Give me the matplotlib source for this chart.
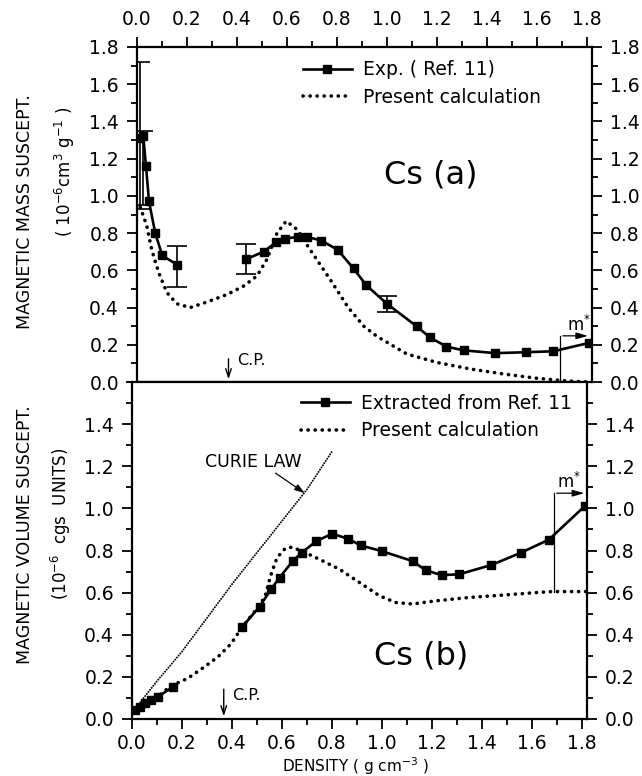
import numpy as np
import matplotlib
matplotlib.use("Agg")
import matplotlib.pyplot as plt
from matplotlib.ticker import MultipleLocator, FixedLocator, FormatStrFormatter

# (a) mass susceptibility, experiment (Ref. 11) - nan marks the gap in the data
mass_exp_x = [0.010, 0.025, 0.036, 0.048, 0.073, 0.101, 0.160, np.nan,
              0.437, 0.506, 0.556, 0.593, 0.643, 0.680, 0.737, 0.803, 0.866,
              0.917, 1.000, 1.118, 1.171, 1.238, 1.307, 1.434, 1.554, 1.665, 1.808]
mass_exp_y = [1.31, 1.32, 1.16, 0.97, 0.80, 0.68, 0.63, np.nan,
              0.66, 0.70, 0.75, 0.77, 0.78, 0.78, 0.76, 0.71, 0.61,
              0.52, 0.42, 0.30, 0.24, 0.19, 0.17, 0.155, 0.16, 0.165, 0.21]

# error bars on the experimental points
err_x = [0.010, 0.025, 0.160, 0.437, 1.000]
err_y = [1.31, 1.32, 0.63, 0.66, 0.42]
err_lo = [0.93, 0.95, 0.51, 0.58, 0.375]
err_hi = [1.72, 1.35, 0.73, 0.74, 0.46]

# (a) present calculation
mass_calc_x = [0.013, 0.039, 0.059, 0.086, 0.12, 0.16, 0.213, 0.28, 0.36, 0.426,
               0.48, 0.52, 0.56, 0.597, 0.64, 0.693, 0.773, 0.845, 0.907, 0.96,
               1.08, 1.2, 1.333, 1.467, 1.6, 1.707, 1.80]
mass_calc_y = [0.94, 0.84, 0.71, 0.59, 0.48, 0.42, 0.40, 0.43, 0.47, 0.515,
               0.57, 0.66, 0.80, 0.865, 0.82, 0.71, 0.55, 0.40, 0.30, 0.245,
               0.15, 0.105, 0.07, 0.043, 0.02, 0.007, 0.0]

# (b) volume susceptibility, extracted from Ref. 11
vol_exp_x = [0.010, 0.030, 0.050, 0.077, 0.103, 0.163, np.nan,
             0.439, 0.510, 0.557, 0.590, 0.643, 0.678, 0.737, 0.801, 0.865,
             0.915, 0.999, 1.122, 1.175, 1.239, 1.308, 1.437, 1.555, 1.668, 1.813]
vol_exp_y = [0.042, 0.058, 0.077, 0.090, 0.105, 0.152, np.nan,
             0.435, 0.533, 0.617, 0.671, 0.750, 0.789, 0.844, 0.880, 0.855,
             0.824, 0.797, 0.750, 0.706, 0.683, 0.687, 0.731, 0.789, 0.852, 1.013]

# (b) present calculation
vol_calc_x = [0.02, 0.06, 0.10, 0.16, 0.222, 0.289, 0.343, 0.396, 0.44, 0.515,
              0.535, 0.554, 0.58, 0.613, 0.64, 0.686, 0.75, 0.83, 0.91, 0.99,
              1.055, 1.122, 1.215, 1.348, 1.481, 1.615, 1.681, 1.815]
vol_calc_y = [0.045, 0.07, 0.105, 0.16, 0.192, 0.247, 0.294, 0.357, 0.435, 0.546,
              0.593, 0.679, 0.766, 0.81, 0.816, 0.794, 0.758, 0.711, 0.648, 0.585,
              0.553, 0.546, 0.561, 0.577, 0.588, 0.60, 0.605, 0.605]

# (b) Curie law
curie_x = [0.02, 0.1, 0.2, 0.3, 0.4, 0.5, 0.6, 0.7, 0.8]
curie_y = [0.06, 0.18, 0.32, 0.48, 0.64, 0.79, 0.94, 1.09, 1.27]

mass_ticks = [0.0, 0.2, 0.4, 0.6, 0.8, 1.0, 1.2, 1.4, 1.6, 1.8]
vol_ticks = [0.0, 0.2, 0.4, 0.6, 0.8, 1.0, 1.2, 1.4]

W, H = 642, 776
fig = plt.figure(figsize=(W / 100, H / 100), dpi=100)


def px_rect(l, t, r, b):
    return [l / W, 1 - b / H, (r - l) / W, (b - t) / H]


axA = fig.add_axes(px_rect(137, 47, 592, 382))
axB = fig.add_axes(px_rect(132, 382, 587, 719))

# round dots for the calculated curves
calc_style = dict(color="k", lw=2.6, linestyle=(0, (0.05, 1.9)), dash_capstyle="round")
exp_style = dict(color="k", lw=1.9, marker="s", markersize=6)

for ax in (axA, axB):
    ax.set_xlim(0, 1.82)
    ax.xaxis.set_major_locator(MultipleLocator(0.2))
    ax.xaxis.set_minor_locator(MultipleLocator(0.1))
    ax.xaxis.set_major_formatter(FormatStrFormatter("%.1f"))
    ax.yaxis.set_major_formatter(FormatStrFormatter("%.1f"))
    ax.tick_params(which="both", direction="out", width=1.3, labelsize=13.5,
                   left=True, right=True, labelleft=True, labelright=True, pad=6)
    ax.tick_params(which="major", length=7)
    ax.tick_params(which="minor", length=4)
    for s in ax.spines.values():
        s.set_linewidth(1.6)

# ---- panel (a)
axA.set_ylim(0, 1.8)
axA.yaxis.set_major_locator(FixedLocator(mass_ticks))
axA.yaxis.set_minor_locator(MultipleLocator(0.1))
axA.tick_params(axis="x", which="both", top=True, labeltop=True, bottom=True, labelbottom=False)

axA.plot(mass_exp_x, mass_exp_y, label="Exp. ( Ref. 11)", **exp_style)
axA.plot(mass_calc_x, mass_calc_y, label="Present calculation", **calc_style)
axA.errorbar(err_x, err_y, yerr=[np.subtract(err_y, err_lo), np.subtract(err_hi, err_y)],
             fmt="none", ecolor="k", elinewidth=1.2, capsize=7.5, capthick=1.2)
axA.legend(loc="upper left", bbox_to_anchor=(0.365, 0.96), frameon=False, borderpad=0,
           borderaxespad=0, handlelength=2.6, handletextpad=0.6, labelspacing=0.45,
           fontsize=13.5, numpoints=1)
axA.text(1.175, 1.11, "Cs (a)", fontsize=23, ha="center", va="center")

axA.annotate("", xy=(0.366, 0.0), xytext=(0.366, 0.14),
             arrowprops=dict(arrowstyle="->,head_length=0.6,head_width=0.2", lw=1))
axA.text(0.40, 0.115, "C.P.", fontsize=11.5, va="center")
axA.plot([1.692, 1.692], [0.0, 0.248], color="k", lw=0.9)
axA.annotate("", xy=(1.815, 0.248), xytext=(1.692, 0.248),
             arrowprops=dict(arrowstyle="-|>,head_length=0.7,head_width=0.2", lw=0.9, color="k"))
axA.text(1.72, 0.255, "m$^{*}$", fontsize=12, va="bottom")

# ---- panel (b)
axB.set_ylim(0, 1.6)
axB.yaxis.set_major_locator(FixedLocator(vol_ticks))
axB.yaxis.set_minor_locator(MultipleLocator(0.1))
axB.tick_params(axis="x", which="both", top=False, bottom=True, labelbottom=True, pad=4)

axB.plot(vol_exp_x, vol_exp_y, label="Extracted from Ref. 11", **exp_style)
axB.plot(vol_calc_x, vol_calc_y, label="Present calculation", **calc_style)
axB.plot(curie_x, curie_y, color="k", lw=1.4, linestyle=(0, (0.05, 1.3)), dash_capstyle="round")
axB.legend(loc="upper left", bbox_to_anchor=(0.371, 0.965), frameon=False, borderpad=0,
           borderaxespad=0, handlelength=2.6, handletextpad=0.6, labelspacing=0.45,
           fontsize=13.5, numpoints=1)
axB.text(1.158, 0.297, "Cs (b)", fontsize=23, ha="center", va="center")

axB.text(0.484, 1.222, "CURIE LAW", fontsize=12.5, ha="center", va="center")
axB.annotate("", xy=(0.70, 1.065), xytext=(0.565, 1.175),
             arrowprops=dict(arrowstyle="-|>,head_length=0.6,head_width=0.2", lw=0.9, color="k"))
axB.annotate("", xy=(0.367, 0.0), xytext=(0.367, 0.155),
             arrowprops=dict(arrowstyle="->,head_length=0.6,head_width=0.2", lw=1))
axB.text(0.40, 0.113, "C.P.", fontsize=11.5, va="center")
axB.plot([1.688, 1.688], [0.605, 1.072], color="k", lw=0.9)
axB.annotate("", xy=(1.82, 1.072), xytext=(1.688, 1.072),
             arrowprops=dict(arrowstyle="-|>,head_length=0.7,head_width=0.2", lw=0.9, color="k"))
axB.text(1.70, 1.08, "m$^{*}$", fontsize=12, va="bottom")

# axis titles
fig.text(25 / W, 1 - 212 / H, "MAGNETIC MASS SUSCEPT.", rotation=90,
         ha="center", va="center", fontsize=12.5)
fig.text(65 / W, 1 - 172 / H, "( 10$^{-6}$cm$^{3}$ g$^{-1}$ )", rotation=90,
         ha="center", va="center", fontsize=12)
fig.text(25 / W, 1 - 535 / H, "MAGNETIC VOLUME SUSCEPT.", rotation=90,
         ha="center", va="center", fontsize=12.5)
fig.text(61 / W, 1 - 524 / H, "(10$^{-6}$  cgs  UNITS)", rotation=90,
         ha="center", va="center", fontsize=12)
fig.text(355 / W, 1 - 772 / H, "DENSITY ( g cm$^{-3}$ )", ha="center", va="baseline",
         fontsize=11)

fig.savefig("out.png", dpi=100)
